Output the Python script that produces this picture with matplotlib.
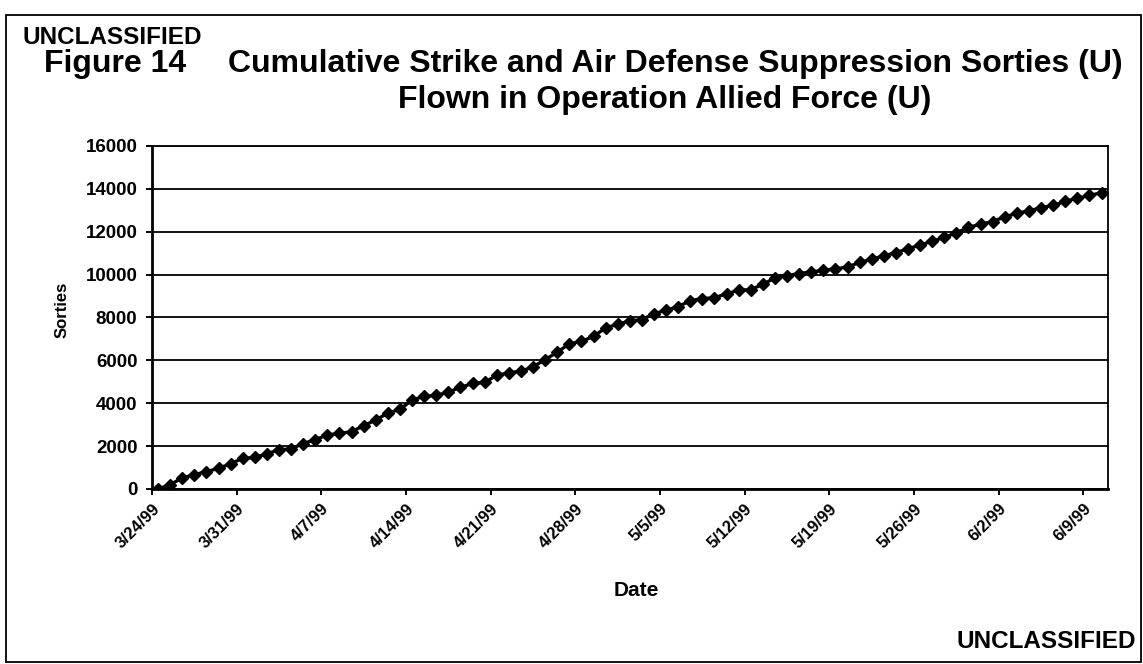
import numpy as np
import matplotlib
matplotlib.use('Agg')
import matplotlib.pyplot as plt
from matplotlib.patches import Rectangle

plt.rcParams['font.family'] = ['Liberation Sans', 'DejaVu Sans']

# cumulative sorties, one value per day from 3/24/99 to 6/10/99
sorties = [
    0, 200, 520, 660, 810, 960, 1180, 1430, 1470, 1640,
    1830, 1870, 2120, 2300, 2520, 2590, 2670, 2950, 3220, 3540,
    3710, 4150, 4320, 4360, 4520, 4740, 4920, 4970, 5300, 5420,
    5490, 5700, 6030, 6380, 6770, 6880, 7120, 7510, 7680, 7840,
    7900, 8170, 8340, 8510, 8780, 8880, 8920, 9100, 9270, 9300,
    9540, 9850, 9950, 10050, 10120, 10200, 10270, 10350, 10570, 10710,
    10880, 11020, 11210, 11370, 11560, 11730, 11950, 12200, 12350, 12470,
    12700, 12850, 12980, 13110, 13230, 13410, 13560, 13690, 13820,
]
tick_labels = ['3/24/99', '3/31/99', '4/7/99', '4/14/99', '4/21/99', '4/28/99',
               '5/5/99', '5/12/99', '5/19/99', '5/26/99', '6/2/99', '6/9/99']
y_ticks = [0, 2000, 4000, 6000, 8000, 10000, 12000, 14000, 16000]

fig = plt.figure(figsize=(11.43, 6.64), dpi=100)
ax = fig.add_axes([0.133, 0.2636, 0.836, 0.5166])

n = len(sorties)
x = np.arange(n) + 0.5
ax.plot(x, sorties, color='black', lw=2.4, marker='D', ms=6.5, zorder=3)

ax.set_xlim(0, n)
ax.set_ylim(0, 16000)
ax.set_xticks(np.arange(0, 7 * len(tick_labels), 7))
ax.set_xticklabels(tick_labels, rotation=45, ha='right', rotation_mode='anchor',
                   fontsize=12, fontweight='bold')
ax.set_yticks(y_ticks)
ax.set_yticklabels([str(v) for v in y_ticks], fontsize=13.5, fontweight='bold')
ax.tick_params(axis='both', direction='out', length=4.5, width=1.4, color='black')
ax.tick_params(axis='x', pad=4)
ax.tick_params(axis='y', pad=6)

ax.yaxis.grid(True, color='black', lw=1.3)
ax.set_axisbelow(True)
for side in ['left', 'bottom']:
    ax.spines[side].set_linewidth(2.0)
for side in ['top', 'right']:
    ax.spines[side].set_linewidth(1.3)

# labels and titles
fig.text(62 / 1143, 1 - 310 / 664, 'Sorties', rotation=90, ha='center', va='center',
         fontsize=12, fontweight='bold')
fig.text(636 / 1143, 1 - 590 / 664, 'Date', ha='center', va='center',
         fontsize=15, fontweight='bold')

fig.text(22 / 1143, 1 - 44 / 664, 'UNCLASSIFIED', ha='left', va='baseline',
         fontsize=17.5, fontweight='bold')
fig.text(44 / 1143, 1 - 72 / 664, 'Figure 14', ha='left', va='baseline',
         fontsize=23, fontweight='bold')
fig.text(228 / 1143, 1 - 72 / 664, 'Cumulative Strike and Air Defense Suppression Sorties (U)',
         ha='left', va='baseline', fontsize=23, fontweight='bold')
fig.text(398 / 1143, 1 - 108 / 664, 'Flown in Operation Allied Force (U)',
         ha='left', va='baseline', fontsize=23, fontweight='bold')
fig.text(1136 / 1143, 1 - 648 / 664, 'UNCLASSIFIED', ha='right', va='baseline',
         fontsize=17.5, fontweight='bold')

# page frame
fig.patches.append(Rectangle((6 / 1143, 2 / 664), 1135 / 1143, 647 / 664,
                             transform=fig.transFigure, fill=False,
                             edgecolor='black', lw=1.3))

fig.savefig('out.png', dpi=100)
